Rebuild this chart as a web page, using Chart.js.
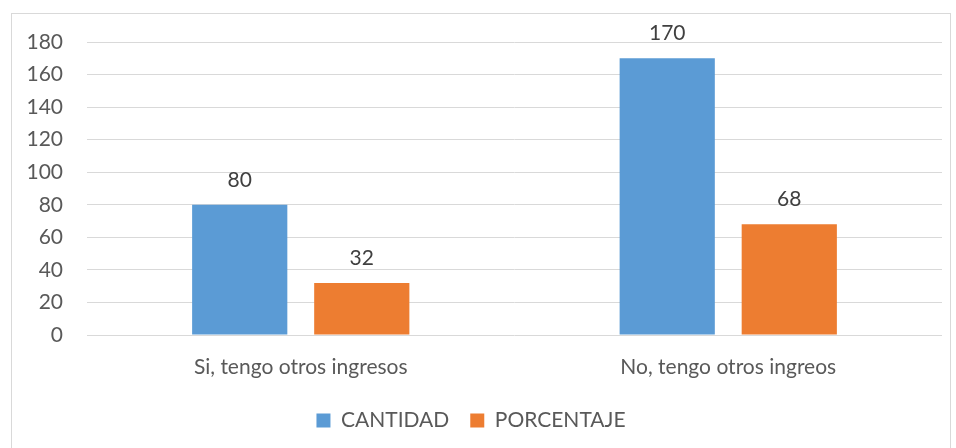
<!DOCTYPE html>
<html>
<head>
<meta charset="utf-8">
<script src="https://cdn.jsdelivr.net/npm/chart.js@4"></script>
<style>
  body { margin: 0; background: #fff; }
  #wrap { position: absolute; left: 0; top: 0; width: 956px; height: 448px; }
  #frame { position: absolute; left: 11px; top: 13px; width: 938px; height: 440px; border: 1px solid #d9d9d9; pointer-events: none; }
</style>
</head>
<body>
<div id="wrap"><canvas id="chart"></canvas></div>
<div id="frame"></div>
<script>
const categories = ["Si, tengo otros ingresos", "No, tengo otros ingreos"];
const cantidad = [80, 170];
const porcentaje = [32, 68];
const yTicks = [0, 20, 40, 60, 80, 100, 120, 140, 160, 180];

const fontFamily = "Lato, 'Open Sans', sans-serif";
const fontSize = 21;

// value labels above each bar
const barLabels = {
  id: "barLabels",
  afterDatasetsDraw(chart) {
    const ctx = chart.ctx;
    ctx.save();
    ctx.font = fontSize + "px " + fontFamily;
    ctx.fillStyle = "#404040";
    ctx.textAlign = "center";
    ctx.textBaseline = "middle";
    chart.data.datasets.forEach((ds, i) => {
      chart.getDatasetMeta(i).data.forEach((bar, j) => {
        ctx.fillText(ds.data[j], bar.x, bar.y - 25);
      });
    });
    ctx.restore();
  },
};

new Chart(document.getElementById("chart"), {
  type: "bar",
  data: {
    labels: categories,
    datasets: [
      {
        label: "CANTIDAD",
        data: cantidad,
        backgroundColor: "#5b9bd5",
        categoryPercentage: 0.571,
        barPercentage: 0.78,
      },
      {
        label: "PORCENTAJE",
        data: porcentaje,
        backgroundColor: "#ed7d31",
        categoryPercentage: 0.571,
        barPercentage: 0.78,
      },
    ],
  },
  options: {
    responsive: true,
    maintainAspectRatio: false,
    animation: false,
    layout: {
      padding: { top: 42, right: 14, left: 0, bottom: 7 },
    },
    plugins: {
      tooltip: { enabled: false },
      legend: {
        position: "bottom",
        labels: {
          color: "#595959",
          boxWidth: 14,
          boxHeight: 14,
          padding: 21,
          font: { size: fontSize, family: fontFamily },
        },
      },
    },
    scales: {
      x: {
        grid: { display: false },
        border: { display: false },
        ticks: {
          color: "#595959",
          padding: 12,
          font: { size: fontSize, family: fontFamily },
        },
        afterFit(scale) {
          scale.height = 54;
        },
      },
      y: {
        min: 0,
        max: 180,
        afterBuildTicks(scale) {
          scale.ticks = yTicks.map((v) => ({ value: v }));
        },
        grid: { color: "#d9d9d9", lineWidth: 1, drawTicks: false },
        border: { display: false },
        ticks: {
          color: "#595959",
          padding: 24,
          font: { size: fontSize, family: fontFamily },
        },
        afterFit(scale) {
          scale.width = 87;
        },
      },
    },
  },
  plugins: [barLabels],
});
</script>
</body>
</html>
